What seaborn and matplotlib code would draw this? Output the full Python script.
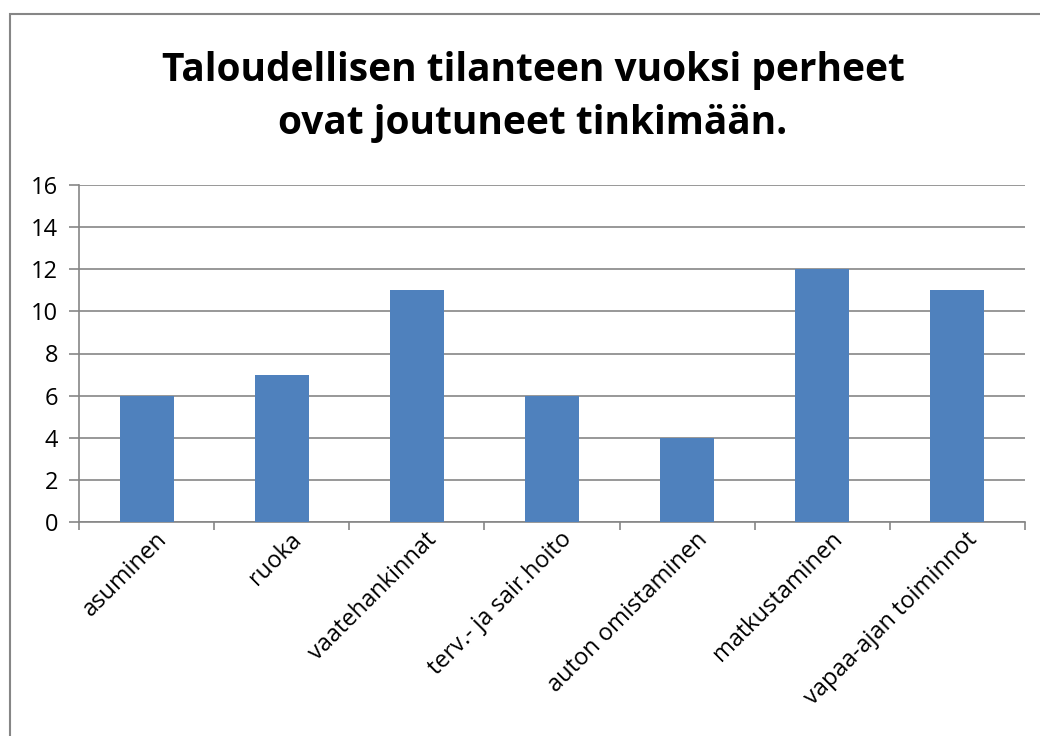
import matplotlib
matplotlib.use("Agg")
import matplotlib.pyplot as plt
import seaborn as sns
import pandas as pd
from matplotlib.patches import Rectangle

categories = ["asuminen", "ruoka", "vaatehankinnat", "terv.- ja sair.hoito",
              "auton omistaminen", "matkustaminen", "vapaa-ajan toiminnot"]
values = [6, 7, 11, 6, 4, 12, 11]
yticks = [0, 2, 4, 6, 8, 10, 12, 14, 16]
title = "Taloudellisen tilanteen vuoksi perheet\novat joutuneet tinkimään."

sns.set_theme(style="white")
plt.rcParams['font.family'] = ['Open Sans', 'DejaVu Sans']

df = pd.DataFrame({"cat": categories, "val": values})

fig = plt.figure(figsize=(10.4, 7.36), dpi=100)
fig.patch.set_facecolor("white")
fig.patches.append(Rectangle((10/1040, -0.05), 1.2, 1 - 14/736 + 0.05,
                             transform=fig.transFigure, fill=False,
                             edgecolor="#868686", linewidth=1.5, zorder=0))

ax = fig.add_axes([79/1040, 1 - 522/736, (1025 - 79)/1040, (522 - 185)/736])
sns.barplot(data=df, x="cat", y="val", color="#4F81BD", saturation=1,
            width=0.4, ax=ax, zorder=3, linewidth=0)

ax.set_ylim(0, 16)
ax.set_yticks(yticks)
ax.set_xlim(-0.5, len(categories) - 0.5)
ax.yaxis.grid(True, color="#868686", linewidth=1.2, zorder=0)
ax.set_axisbelow(True)
for s in ["top", "right"]:
    ax.spines[s].set_visible(False)
for s in ["left", "bottom"]:
    ax.spines[s].set_color("#868686")
    ax.spines[s].set_linewidth(1.2)
ax.set_xlabel("")
ax.set_ylabel("")

ax.tick_params(axis="y", direction="out", length=7, width=1.2, color="#868686",
               labelsize=17, labelcolor="black", pad=8, left=True)
ax.tick_params(axis="x", length=0, labelsize=17, labelcolor="black", pad=4)
ax.set_xticks([i - 0.5 for i in range(len(categories) + 1)], minor=True)
ax.tick_params(axis="x", which="minor", direction="out", length=6, width=1.2,
               color="#868686", bottom=True)
ax.set_xticks(range(len(categories)))
ax.set_xticklabels(categories, rotation=45, ha="right", rotation_mode="anchor",
                   fontsize=17)
for lbl in ax.get_xticklabels():
    lbl.set_x(lbl.get_position()[0])
import matplotlib.transforms as mtrans
offset = mtrans.ScaledTranslation(8/100, 0, fig.dpi_scale_trans)
for lbl in ax.get_xticklabels():
    lbl.set_transform(lbl.get_transform() + offset)

fig.text(533/1040, 1 - 97/736, title, ha="center", va="center",
         fontsize=28, fontweight="bold", linespacing=1.45, color="black")

fig.savefig("out.png", dpi=100)
